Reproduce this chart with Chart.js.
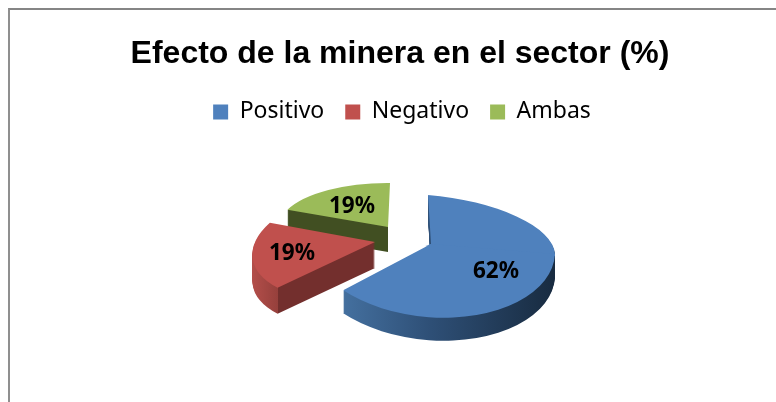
<!DOCTYPE html>
<html>
<head>
<meta charset="utf-8">
<style>
html,body{margin:0;padding:0;background:#fff;width:776px;height:402px;overflow:hidden}
#frame{position:absolute;left:8px;top:8px;width:768px;height:394px;border-left:2px solid #8f8f8f;border-top:2px solid #858585;box-sizing:border-box}
#c{position:absolute;left:0;top:0}
</style>
</head>
<body>
<div id="frame"></div>
<canvas id="c" width="776" height="402"></canvas>
<script src="https://cdn.jsdelivr.net/npm/chart.js@4/dist/chart.umd.min.js"></script>
<script>
const chartTitle = 'Efecto de la minera en el sector (%)';
const categories = ['Positivo', 'Negativo', 'Ambas'];
const shares = [62, 19, 19];
const sliceColors = ['#4f81bd', '#c0504d', '#9bbb59'];

// Look of the tilted, exploded 3-D pie: how each slice's circle is projected on screen.
const projections = [
  { apex: [431, 244], right: [124, 10], down: [[3, 49], [-4, 73]], depth: 23,
    side: [[343, '#44709f'], [431, '#2e4f76'], [555, '#182b40']], label: [65, 27] },
  { apex: [375, 242], right: [121, -3], down: [[-20, 60]], depth: 26,
    side: [[252, '#b34e4a'], [278, '#96403c'], [278.5, '#732f2d'], [375, '#732f2d']], label: [-83, 11] },
  { apex: [388, 227], right: [109, 1], down: [[-2, 44]], depth: 25,
    side: [[286, '#414f22'], [387.5, '#414f22'], [388, 'rgba(65,79,34,0)']], label: [-36, -21] }
];
const drawOrder = [2, 1, 0];
const legendShift = 2;

function place(ctx, arc, p, down, dy) {
  const r = arc.outerRadius;
  ctx.translate(0, dy);
  ctx.transform(p.right[0] / r, p.right[1] / r, down[0] / r, down[1] / r, p.apex[0], p.apex[1]);
  ctx.translate(-arc.x, -arc.y);
}

function sideGradient(ctx, arc, p, down) {
  const r = arc.outerRadius, qx = p.right[0], qy = down[0], q2 = qx * qx + qy * qy;
  const at = x => { const k = r * (x - p.apex[0]) / q2; return [arc.x + k * qx, arc.y + k * qy]; };
  const a = at(p.side[0][0]), b = at(p.side[p.side.length - 1][0]);
  const g = ctx.createLinearGradient(a[0], a[1], b[0], b[1]);
  const span = p.side[p.side.length - 1][0] - p.side[0][0];
  p.side.forEach(s => g.addColorStop((s[0] - p.side[0][0]) / span, s[1]));
  return g;
}

function drawPart(ctx, arc, p, dy, fill) {
  const r = arc.outerRadius, parts = p.down;
  parts.forEach((down, k) => {
    ctx.save();
    place(ctx, arc, p, down, dy);
    if (parts.length > 1) {
      ctx.beginPath();
      // the first part runs on under the second, so that no seam shows
      if (k === 0) ctx.rect(arc.x - r - 3, arc.y - r - 3, 2 * r + 6, r + 8);
      else ctx.rect(arc.x - r - 3, arc.y, 2 * r + 6, r + 3);
      ctx.clip();
    }
    const saved = arc.options;
    arc.options = Object.assign({}, saved, {
      backgroundColor: fill === 'side' ? sideGradient(ctx, arc, p, down) : fill,
      borderWidth: 0, offset: 0
    });
    arc.draw(ctx);
    arc.options = saved;
    ctx.restore();
  });
}

const tiltedPie = {
  id: 'tiltedPie',
  afterLayout(chart) {
    chart.legend.left += legendShift;
    chart.legend.right += legendShift;
  },
  beforeDatasetDraw(chart) {
    const ctx = chart.ctx, arcs = chart.getDatasetMeta(0).data;
    drawOrder.forEach(i => {
      const p = projections[i];
      for (let d = p.depth; d >= 1; d--) drawPart(ctx, arcs[i], p, d, 'side');
      drawPart(ctx, arcs[i], p, 0, sliceColors[i]);
    });
    return false;
  },
  afterDatasetsDraw(chart) {
    const ctx = chart.ctx;
    ctx.save();
    ctx.font = 'bold 22.5px "Noto Sans"';
    ctx.fillStyle = '#000';
    ctx.textAlign = 'center';
    ctx.textBaseline = 'middle';
    shares.forEach((v, i) => {
      const p = projections[i];
      ctx.fillText(v + '%', p.apex[0] + p.label[0], p.apex[1] + p.label[1] + 1);
    });
    ctx.restore();
  }
};

new Chart(document.getElementById('c'), {
  type: 'pie',
  data: { labels: categories, datasets: [{ data: shares, backgroundColor: sliceColors, borderWidth: 0 }] },
  options: {
    responsive: false,
    animation: false,
    layout: { padding: { top: 35, left: 72, right: 48, bottom: 30 } },
    plugins: {
      tooltip: { enabled: false },
      title: {
        display: true, text: chartTitle, color: '#000',
        font: { family: '"Liberation Sans"', size: 32, weight: 'bold' },
        padding: { top: 0, bottom: 6 }
      },
      legend: {
        position: 'top',
        labels: {
          color: '#000', boxWidth: 15, boxHeight: 15, padding: 21,
          font: { family: '"Noto Sans"', size: 23 }
        }
      }
    }
  },
  plugins: [tiltedPie]
});
</script>
</body>
</html>
